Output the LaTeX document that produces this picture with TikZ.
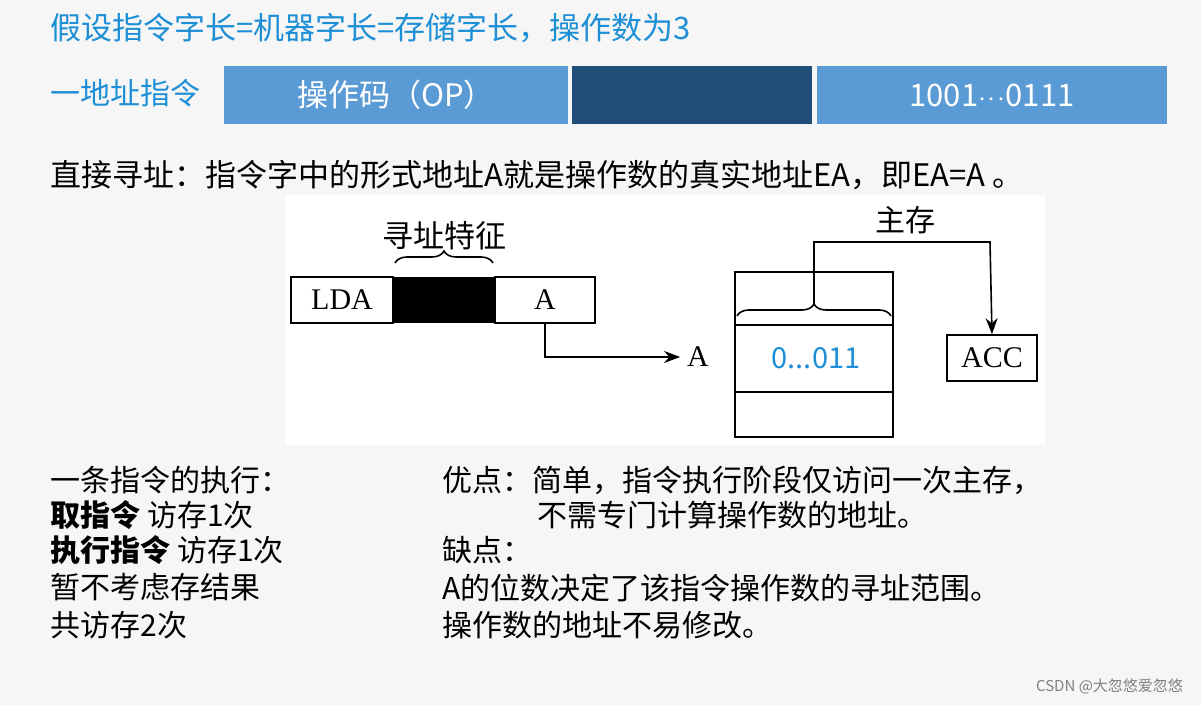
\documentclass[tikz,border=0pt]{standalone}
\usepackage{fontspec}
\setmainfont{Noto Sans CJK SC}
\newfontfamily\serifrm{Liberation Serif}
\usetikzlibrary{decorations.pathreplacing,arrows.meta}
\definecolor{titleblue}{HTML}{1C8FD6}
\definecolor{barblue}{HTML}{5B9BD5}
\definecolor{bardark}{HTML}{1F4E79}
\definecolor{bggray}{HTML}{F6F6F6}
\tikzset{
  txt/.style={anchor=west, inner sep=0pt, font=\fontsize{15.5}{17}\selectfont},
  note/.style={anchor=west, inner sep=0pt, font=\fontsize{15}{17}\selectfont},
  bar/.style={fill=barblue, draw=none, text=white, font=\fontsize{15.5}{17}\selectfont},
  serlab/.style={font=\serifrm\fontsize{15}{17}\selectfont},
  cell/.style={draw, thick, serlab},
  brace/.style={decorate, decoration={brace, amplitude=6pt}, thick},
}
\begin{document}
\begin{tikzpicture}[x=0.5pt, y=-0.5pt]
\fill[bggray] (0,0) rectangle (1201,705);
\useasboundingbox (0,0) rectangle (1201,705);
\fill[white] (285,195) rectangle (1045,445);

% header
\node[txt, text=titleblue] (title) at (50,28) {假设指令字长=机器字长=存储字长，操作数为3};
\node[txt, text=titleblue, font=\fontsize{15}{17}\selectfont] (kind) at (50,93) {一地址指令};
\node[bar, minimum width=172pt, minimum height=29pt] (op) at (396,95) {操作码（OP）};
\node[bar, fill=bardark, minimum width=120pt, minimum height=29pt] (mode) at (692,95) {};
\node[bar, minimum width=175pt, minimum height=29pt] (addr) at (992,95) {1001$\cdot\!\cdot\!\cdot$0111};
\node[txt] (def) at (50,175) {直接寻址：指令字中的形式地址A就是操作数的真实地址EA，即EA=A 。};

% instruction word
\draw[thick] (291,277) rectangle node[serlab] (lda) {LDA} (393,323);
\fill (393,277) rectangle (495,323);
\draw[thick] (495,277) rectangle node[serlab] (a) {A} (595,323);
\draw[brace] (395,263) -- node[above=3pt, font=\fontsize{15.5}{17}\selectfont] (feat) {寻址特征} (493,263);
\coordinate (abot) at (545,323);
\node[serlab] (aout) at (698,357) {A};
\draw[thick, -{Stealth[length=8pt]}] (abot) |- (aout.west);

% memory
\draw[thick] (735,272) rectangle (893,437);
\draw[thick] (735,325) -- (893,325);
\draw[thick] (735,392) -- (893,392);
\node[text=titleblue, font=\fontsize{14.5}{16}\selectfont] (val) at (816,358) {0...011};
\draw[brace] (737,316) -- (891,316);
\node[font=\fontsize{15}{17}\selectfont] (mem) at (905,220) {主存};
\node[cell, minimum width=45pt, minimum height=23pt] (acc) at (992,358) {ACC};
\draw[thick, -{Stealth[length=8pt]}] (814,306) |- (990,242) -- (acc.north);

% notes
\node[note] (n1) at (50,480) {一条指令的执行：};
\node[note] (n2) at (50,515) {\textbf{取指令} 访存1次};
\node[note] (n3) at (50,550) {\textbf{执行指令} 访存1次};
\node[note] (n4) at (50,587) {暂不考虑存结果};
\node[note] (n5) at (50,625) {共访存2次};
\node[note] (p1) at (442,480) {优点：简单，指令执行阶段仅访问一次主存，};
\node[note] (p2) at (537,515) {不需专门计算操作数的地址。};
\node[note] (p3) at (442,550) {缺点：};
\node[note] (p4) at (442,588) {A的位数决定了该指令操作数的寻址范围。};
\node[note] (p5) at (442,625) {操作数的地址不易修改。};
\node[anchor=east, text=gray, font=\fontsize{7.5}{9}\selectfont] (mark) at (1190,686) {CSDN @大忽悠爱忽悠};
\end{tikzpicture}
\end{document}
